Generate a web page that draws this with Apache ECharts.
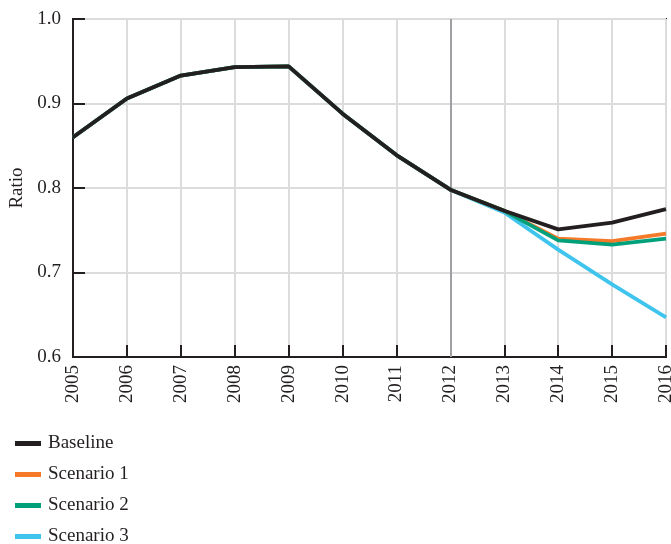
<!DOCTYPE html>
<html><head><meta charset="utf-8">
<script src="https://cdn.jsdelivr.net/npm/echarts@6/dist/echarts.min.js"></script>
<style>html,body{margin:0;padding:0;background:#fff}#c{width:671px;height:544px}</style>
</head><body><div id="c"></div>
<script>
const years = ['2005','2006','2007','2008','2009','2010','2011','2012','2013','2014','2015','2016'];
const baseline  = [0.860,0.906,0.933,0.943,0.944,0.888,0.839,0.798,0.773,0.751,0.759,0.775];
const scenario1 = [0.860,0.906,0.933,0.943,0.944,0.888,0.839,0.798,0.773,0.740,0.737,0.746];
const scenario2 = [0.860,0.906,0.933,0.943,0.944,0.888,0.839,0.798,0.773,0.738,0.733,0.740];
const scenario3 = [0.860,0.906,0.933,0.943,0.944,0.888,0.839,0.798,0.771,0.727,0.686,0.647];
const seriesNames = ['Baseline','Scenario 1','Scenario 2','Scenario 3'];
const colors = ['#231f20','#f47a29','#00a07a','#3fc4ee'];
const font = '"Liberation Serif", "DejaVu Serif", serif';
const chart = echarts.init(document.getElementById('c'));
function mk(i, data, z){
  return {name: seriesNames[i], type:'line', data: data, symbol:'none', z: z,
    lineStyle:{color: colors[i], width: 3.8}, itemStyle:{color: colors[i]}, animation:false};
}
const s0 = mk(0, baseline, 10);
s0.markLine = {silent:true, symbol:['none','none'], label:{show:false},
  lineStyle:{color:'#a0a0a4', width:2, type:'solid'}, data:[{xAxis:'2012'}], z: 1};
chart.setOption({
  animation:false,
  textStyle:{fontFamily: font},
  grid:{left:73, right:5, top:19, bottom:187, outerBoundsMode:'none', containLabel:false,
    show:true, borderColor:'#231f20', borderWidth:2, backgroundColor:'transparent'},
  legend:{orient:'vertical', left:10, top:429, height:120, itemWidth:26, itemHeight:5, itemGap:12,
    icon:'rect', textStyle:{fontFamily:font, fontSize:19, color:'#231f20', padding:[0,0,0,2]},
    data: seriesNames},
  xAxis:{type:'category', data: years, boundaryGap:false,
    axisLine:{lineStyle:{color:'#231f20', width:2}},
    axisTick:{inside:true, length:12, alignWithLabel:true, lineStyle:{color:'#231f20', width:2}},
    splitLine:{show:true, lineStyle:{color:'#dcdcdc', width:2}},
    axisLabel:{rotate:90, fontFamily:font, fontSize:19, color:'#231f20', margin:8}},
  yAxis:{type:'value', min:0.6, max:1.0, interval:0.1, name:'Ratio', nameLocation:'middle', nameGap:46,
    nameTextStyle:{fontFamily:font, fontSize:19, color:'#231f20'},
    axisLine:{show:true, lineStyle:{color:'#231f20', width:2}},
    axisTick:{show:true, inside:true, length:12, lineStyle:{color:'#231f20', width:2}},
    splitLine:{show:true, lineStyle:{color:'#dcdcdc', width:2}},
    axisLabel:{fontFamily:font, fontSize:19, color:'#231f20', margin:12, formatter: v => v.toFixed(1)}},
  series:[mk(3, scenario3, 4), mk(1, scenario1, 5), mk(2, scenario2, 6), s0]
});
</script></body></html>
